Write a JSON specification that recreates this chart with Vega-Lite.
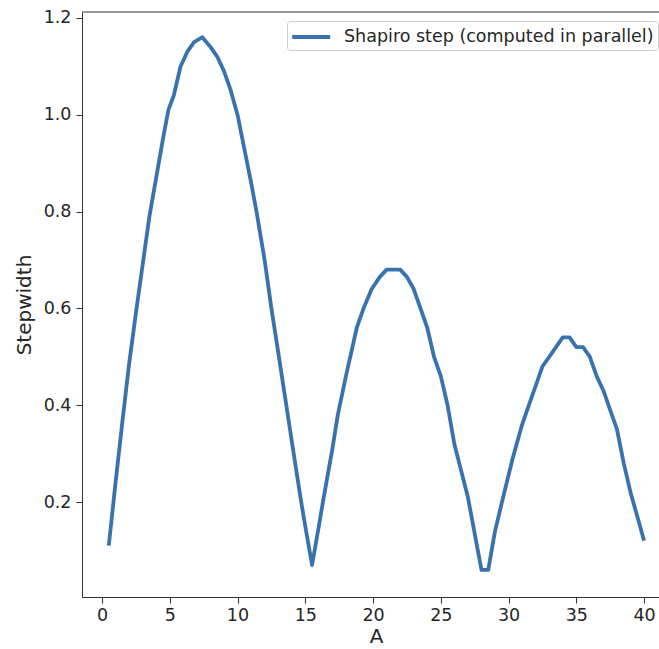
{
  "$schema": "https://vega.github.io/schema/vega-lite/v6.json",
  "width": 577,
  "height": 585,
  "autosize": {"type": "none"},
  "padding": {"left": 82, "top": 12, "right": 0, "bottom": 52},
  "background": "white",
  "config": {
    "view": {"stroke": null},
    "font": "DejaVu Sans",
    "axis": {
      "domainColor": "#333",
      "domainWidth": 1,
      "tickColor": "#333",
      "tickSize": 6,
      "tickWidth": 1,
      "labelColor": "#262626",
      "labelFont": "DejaVu Sans",
      "labelFontSize": 17.5,
      "titleFont": "DejaVu Sans",
      "titleFontSize": 20,
      "titleFontWeight": "normal",
      "titleColor": "#262626",
      "grid": false
    }
  },
  "layer": [
    {
      "data": {
        "values": [
          {"A": 0.5, "Stepwidth": 0.11},
          {"A": 1.0, "Stepwidth": 0.24},
          {"A": 1.5, "Stepwidth": 0.365},
          {"A": 2.0, "Stepwidth": 0.485},
          {"A": 2.5, "Stepwidth": 0.59},
          {"A": 3.0, "Stepwidth": 0.69},
          {"A": 3.5, "Stepwidth": 0.79},
          {"A": 4.0, "Stepwidth": 0.87},
          {"A": 4.5, "Stepwidth": 0.95},
          {"A": 4.9, "Stepwidth": 1.01},
          {"A": 5.3, "Stepwidth": 1.04},
          {"A": 5.8, "Stepwidth": 1.10},
          {"A": 6.3, "Stepwidth": 1.13},
          {"A": 6.8, "Stepwidth": 1.15},
          {"A": 7.4, "Stepwidth": 1.16},
          {"A": 8.0, "Stepwidth": 1.14},
          {"A": 8.5, "Stepwidth": 1.12},
          {"A": 9.0, "Stepwidth": 1.09},
          {"A": 9.5, "Stepwidth": 1.05},
          {"A": 10.0, "Stepwidth": 1.0},
          {"A": 10.5, "Stepwidth": 0.93},
          {"A": 11.0, "Stepwidth": 0.86},
          {"A": 11.4, "Stepwidth": 0.8},
          {"A": 12.0, "Stepwidth": 0.7},
          {"A": 12.5, "Stepwidth": 0.6},
          {"A": 13.0, "Stepwidth": 0.51},
          {"A": 13.6, "Stepwidth": 0.4},
          {"A": 14.2, "Stepwidth": 0.29},
          {"A": 14.7, "Stepwidth": 0.2},
          {"A": 15.0, "Stepwidth": 0.15},
          {"A": 15.5, "Stepwidth": 0.07},
          {"A": 16.0, "Stepwidth": 0.15},
          {"A": 16.3, "Stepwidth": 0.2},
          {"A": 17.0, "Stepwidth": 0.31},
          {"A": 17.4, "Stepwidth": 0.38},
          {"A": 18.0, "Stepwidth": 0.46},
          {"A": 18.8, "Stepwidth": 0.56},
          {"A": 19.3, "Stepwidth": 0.6},
          {"A": 19.9, "Stepwidth": 0.64},
          {"A": 20.5, "Stepwidth": 0.665},
          {"A": 21.0, "Stepwidth": 0.68},
          {"A": 22.0, "Stepwidth": 0.68},
          {"A": 22.5, "Stepwidth": 0.665},
          {"A": 23.0, "Stepwidth": 0.64},
          {"A": 23.5, "Stepwidth": 0.6},
          {"A": 24.0, "Stepwidth": 0.56},
          {"A": 24.5, "Stepwidth": 0.5},
          {"A": 25.0, "Stepwidth": 0.46},
          {"A": 25.5, "Stepwidth": 0.4},
          {"A": 26.0, "Stepwidth": 0.32},
          {"A": 26.5, "Stepwidth": 0.265},
          {"A": 27.0, "Stepwidth": 0.21},
          {"A": 27.6, "Stepwidth": 0.12},
          {"A": 28.0, "Stepwidth": 0.06},
          {"A": 28.5, "Stepwidth": 0.06},
          {"A": 29.0, "Stepwidth": 0.14},
          {"A": 29.6, "Stepwidth": 0.21},
          {"A": 30.3, "Stepwidth": 0.29},
          {"A": 31.0, "Stepwidth": 0.36},
          {"A": 31.5, "Stepwidth": 0.4},
          {"A": 32.0, "Stepwidth": 0.44},
          {"A": 32.5, "Stepwidth": 0.48},
          {"A": 33.0, "Stepwidth": 0.5},
          {"A": 33.5, "Stepwidth": 0.52},
          {"A": 34.0, "Stepwidth": 0.54},
          {"A": 34.5, "Stepwidth": 0.54},
          {"A": 35.0, "Stepwidth": 0.52},
          {"A": 35.5, "Stepwidth": 0.52},
          {"A": 36.0, "Stepwidth": 0.5},
          {"A": 36.5, "Stepwidth": 0.46},
          {"A": 37.0, "Stepwidth": 0.43},
          {"A": 37.5, "Stepwidth": 0.39},
          {"A": 38.0, "Stepwidth": 0.35},
          {"A": 38.5, "Stepwidth": 0.28},
          {"A": 39.0, "Stepwidth": 0.22},
          {"A": 39.5, "Stepwidth": 0.17},
          {"A": 40.0, "Stepwidth": 0.12}
        ]
      },
      "mark": {"type": "line", "strokeWidth": 3.8, "strokeJoin": "round", "strokeCap": "butt"},
      "encoding": {
        "x": {
          "field": "A", "type": "quantitative",
          "scale": {"domain": [-1.475, 41.1], "nice": false, "zero": false},
          "axis": {"values": [0, 5, 10, 15, 20, 25, 30, 35, 40], "labelPadding": 3, "titlePadding": 3, "titleX": 294, "labelFlush": false}
        },
        "y": {
          "field": "Stepwidth", "type": "quantitative",
          "scale": {"domain": [0.004, 1.212], "nice": false, "zero": false},
          "axis": {"title": "Stepwidth", "values": [0.2, 0.4, 0.6, 0.8, 1.0, 1.2], "format": ".1f", "labelPadding": 5, "titlePadding": 9, "labelFlush": false}
        },
        "color": {
          "datum": "Shapiro step (computed in parallel)",
          "type": "nominal",
          "scale": {"domain": ["Shapiro step (computed in parallel)"], "range": ["#3873b0"]},
          "legend": {
            "title": null,
            "orient": "none",
            "legendX": 205,
            "legendY": 9,
            "padding": 4,
            "strokeColor": "#cccccc",
            "fillColor": "white",
            "cornerRadius": 3,
            "symbolType": "M-1.08,0H2.72",
            "symbolSize": 400,
            "symbolStrokeWidth": 3.8,
            "symbolFillColor": "transparent",
            "labelFont": "DejaVu Sans",
            "labelFontSize": 17.5,
            "labelColor": "#262626",
            "labelOffset": 29,
            "labelLimit": 500
          }
        }
      }
    },
    {
      "data": {"values": [{"top": 1.212}]},
      "mark": {"type": "rule", "color": "#333", "strokeWidth": 1},
      "encoding": {
        "y": {"field": "top", "type": "quantitative"}
      }
    }
  ]
}
